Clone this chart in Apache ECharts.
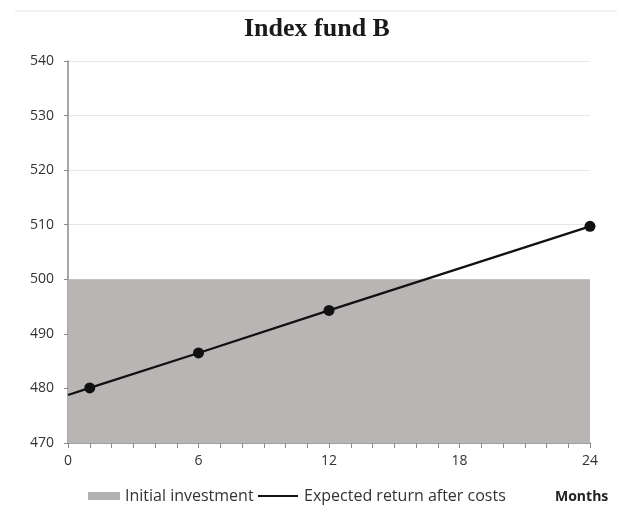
<!DOCTYPE html>
<html>
<head>
<meta charset="utf-8">
<script src="https://cdn.jsdelivr.net/npm/echarts@6/dist/echarts.min.js"></script>
<style>html,body{margin:0;padding:0;background:#fff}#c{width:617px;height:507px}</style>
</head>
<body>
<div id="c"></div>
<script>
var titleText = 'Index fund B';
var months = [0, 1, 6, 12, 24];
var expectedReturn = [478.8, 480.1, 486.5, 494.3, 509.7];
var investMonths = [0, 24];
var initialInvestment = [500, 500];
var seriesNames = ['Initial investment', 'Expected return after costs'];
var xAxisName = 'Months';

var chart = echarts.init(document.getElementById('c'));
var lineData = months.map(function (m, i) {
  var d = { value: [m, expectedReturn[i]] };
  if (i === 0) d.symbol = 'none';
  return d;
});
var areaData = investMonths.map(function (m, i) { return [m, initialInvestment[i]]; });
var legendText = { fontFamily: 'Open Sans', fontSize: 16, color: '#333' };

chart.setOption({
  animation: false,
  backgroundColor: '#fff',
  title: {
    text: titleText, left: 239, top: 11,
    textStyle: { fontFamily: 'Liberation Serif', fontWeight: 'bold', fontSize: 26, color: '#1a1a1a' }
  },
  graphic: [
    { type: 'line', shape: { x1: 15, y1: 11, x2: 617, y2: 11 }, style: { stroke: '#e4e4e4', lineWidth: 1 } },
    { type: 'text', left: 555, top: 490, style: { text: xAxisName, fontFamily: 'Open Sans', fontWeight: 'bold', fontSize: 14, fill: '#222' } }
  ],
  legend: [
    {
      left: 88, top: 488, padding: 0,
      itemWidth: 32, itemHeight: 8,
      textStyle: legendText,
      data: [{ name: seriesNames[0], icon: 'rect' }]
    },
    {
      left: 258, top: 488, padding: 0,
      itemWidth: 42, itemHeight: 8,
      textStyle: legendText,
      data: [{ name: seriesNames[1], icon: 'path://M0,0M0,3.1L40,3.1L40,4.9L0,4.9ZM40,8' }]
    }
  ],
  grid: { left: 68, right: 27, top: 61, bottom: 64 },
  xAxis: {
    type: 'value', min: 0, max: 24, interval: 6,
    axisLine: { show: true, lineStyle: { color: '#8a8a8a', width: 1.5 } },
    axisTick: { show: true, length: 5, lineStyle: { color: '#8a8a8a' } },
    minorTick: { show: true, splitNumber: 6, length: 5, lineStyle: { color: '#8a8a8a' } },
    splitLine: { show: false },
    axisLabel: { margin: 11, fontFamily: 'Open Sans', fontSize: 14, color: '#333' }
  },
  yAxis: {
    type: 'value', min: 470, max: 540, interval: 10,
    axisLine: { show: true, lineStyle: { color: '#8a8a8a', width: 1.5 } },
    axisTick: { show: true, length: 4, lineStyle: { color: '#8a8a8a' } },
    splitLine: { show: true, lineStyle: { color: '#e6e6e6', width: 1 } },
    axisLabel: { margin: 14, fontFamily: 'Open Sans', fontSize: 14, color: '#333' }
  },
  series: [
    {
      name: seriesNames[0], type: 'line', data: areaData, symbol: 'none', z: 1,
      itemStyle: { color: '#b3b0b0' },
      lineStyle: { width: 0, color: '#b9b5b5' },
      areaStyle: { color: '#b9b5b5', opacity: 1, origin: 'start' }
    },
    {
      name: seriesNames[1], type: 'line', data: lineData, z: 3,
      symbol: 'circle', symbolSize: 11,
      itemStyle: { color: '#111' },
      lineStyle: { color: '#111', width: 2.2 }
    }
  ]
});
</script>
</body>
</html>
